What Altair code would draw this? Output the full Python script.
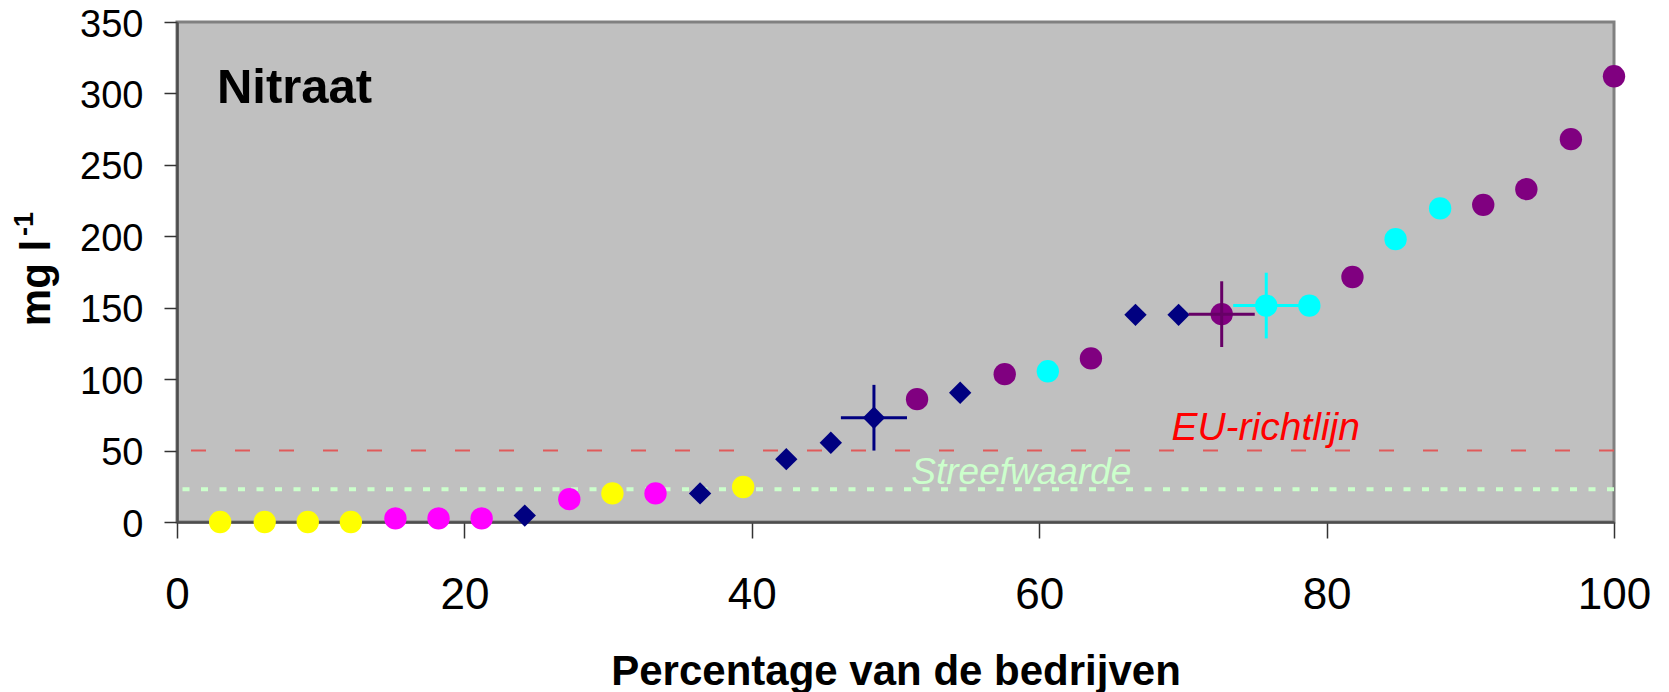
import altair as alt
import pandas as pd

FONT = "Liberation Sans"

# ---- data ----
pct = [3.0, 6.1, 9.1, 12.1, 15.2, 18.2, 21.2, 24.2, 27.3, 30.3, 33.3, 36.4,
       39.4, 42.4, 45.5, 48.5, 51.5, 54.5, 57.6, 60.6, 63.6, 66.7, 69.7,
       72.7, 75.8, 78.8, 81.8, 84.8, 87.9, 90.9, 93.9, 97.0, 100.0]
nitraat = [0, 0, 0, 0, 2.5, 2.5, 2.5, 4.5, 16, 20, 20, 20, 24.5, 44, 55.5,
           73, 86, 90.5, 103.5, 105.5, 114.5, 145, 145, 145.5, 151.5, 151.5,
           171.5, 198, 219.5, 222, 233, 268, 312]
groep = ["geel", "geel", "geel", "geel", "roze", "roze", "roze", "blauw",
         "roze", "geel", "roze", "blauw", "geel", "blauw", "blauw", "blauw",
         "paars", "blauw", "paars", "cyaan", "paars", "blauw", "blauw",
         "paars", "cyaan", "cyaan", "paars", "cyaan", "cyaan", "paars",
         "paars", "paars", "paars"]

groep_namen = ["geel", "roze", "blauw", "paars", "cyaan"]
groep_kleuren = ["#FFFF00", "#FF00FF", "#000080", "#800080", "#00FFFF"]
groep_vormen = ["circle", "circle", "diamond", "circle", "circle"]

err_pct = [48.5, 72.7, 75.8]
err_val = [73, 145.5, 151.5]
err_dx = [2.3, 2.3, 2.3]
err_dy = [23, 23, 23]
err_kleur = ["#000080", "#660066", "#00FFFF"]

eu_richtlijn = 50
streefwaarde = 23

x_ticks = [0, 20, 40, 60, 80, 100]
y_ticks = [0, 50, 100, 150, 200, 250, 300, 350]

# ---- tables ----
pts = pd.DataFrame({"x": pct, "y": nitraat, "groep": groep})
err = pd.DataFrame({"x": err_pct, "y": err_val, "dx": err_dx, "dy": err_dy, "kleur": err_kleur})
err["x1"] = err["x"] - err["dx"]
err["x2"] = err["x"] + err["dx"]
err["y1"] = err["y"] - err["dy"]
err["y2"] = err["y"] + err["dy"]

xs = alt.Scale(domain=[0, 100], nice=False, zero=False)
ys = alt.Scale(domain=[0, 350], nice=False)

xaxis = alt.Axis(values=x_ticks, grid=False, tickSize=16, labelPadding=35,
                 labelFontSize=44, labelFont=FONT, labelColor="black",
                 labelFlush=False, labelOverlap=False,
                 tickColor="#333333", tickWidth=1.5,
                 domainColor="#4d4d4d", domainWidth=2.5,
                 title="Percentage van de bedrijven", titleFont=FONT,
                 titleFontSize=42, titleFontWeight="bold", titleColor="black",
                 titleBaseline="alphabetic", titleY=162)
yaxis = alt.Axis(values=y_ticks, grid=False, tickSize=13, labelPadding=21,
                 labelFontSize=38, labelFont=FONT, labelColor="black",
                 labelFlush=False, labelOverlap=False, labelOffset=3,
                 tickColor="#333333", tickWidth=1.5,
                 domainColor="#4d4d4d", domainWidth=2.5, title=None)


def X(f):
    return alt.X(f, type="quantitative", scale=xs, axis=xaxis)


def Y(f):
    return alt.Y(f, type="quantitative", scale=ys, axis=yaxis)


eu = alt.Chart(pd.DataFrame({"y": [eu_richtlijn]})).mark_rule(
    color="#E05A5A", strokeWidth=2, strokeDash=[15, 29]).encode(y=Y("y"))
streef = alt.Chart(pd.DataFrame({"y": [streefwaarde]})).mark_rule(
    color="#CCFFCC", strokeWidth=4, strokeDash=[7, 11.5]).encode(y=Y("y"))

punten = alt.Chart(pts).mark_point(filled=True, opacity=1, size=500).encode(
    x=X("x"), y=Y("y"),
    color=alt.Color("groep:N", scale=alt.Scale(domain=groep_namen, range=groep_kleuren), legend=None),
    shape=alt.Shape("groep:N", scale=alt.Scale(domain=groep_namen, range=groep_vormen), legend=None),
)

hbar = alt.Chart(err).mark_rule(strokeWidth=3).encode(
    x=X("x1"), x2="x2", y=Y("y"), color=alt.Color("kleur:N", scale=None))
vbar = alt.Chart(err).mark_rule(strokeWidth=3).encode(
    x=X("x"), y=Y("y1"), y2="y2", color=alt.Color("kleur:N", scale=None))

labels = pd.DataFrame({
    "x": [2.78, 69.2, 51.1],
    "y": [293.3, 57.7, 26.6],
    "t": ["Nitraat", "EU-richtlijn", "Streefwaarde"],
})
nitraat_txt = alt.Chart(labels.iloc[[0]]).mark_text(
    align="left", baseline="alphabetic", font=FONT, fontSize=49,
    fontWeight="bold", color="black").encode(x=X("x"), y=Y("y"), text="t:N")
eu_txt = alt.Chart(labels.iloc[[1]]).mark_text(
    align="left", baseline="alphabetic", font=FONT, fontSize=39,
    fontStyle="italic", color="#FF0000").encode(x=X("x"), y=Y("y"), text="t:N")
streef_txt = alt.Chart(labels.iloc[[2]]).mark_text(
    align="left", baseline="alphabetic", font=FONT, fontSize=37,
    fontStyle="italic", color="#CCFFCC").encode(x=X("x"), y=Y("y"), text="t:N")

ytitle = alt.Chart(pd.DataFrame({"t": ["mg l"]})).mark_text(
    angle=270, align="center", baseline="alphabetic", font=FONT, fontSize=42,
    fontWeight="bold", color="black").encode(
    x=alt.value(-127), y=alt.value(261), text="t:N")
ysup = alt.Chart(pd.DataFrame({"t": ["-1"]})).mark_text(
    angle=270, align="left", baseline="alphabetic", font=FONT, fontSize=27,
    fontWeight="bold", color="black").encode(
    x=alt.value(-144), y=alt.value(214), text="t:N")

chart = alt.layer(
    streef, eu, streef_txt, eu_txt, nitraat_txt, punten, hbar, vbar, ytitle, ysup
).properties(
    width=1437, height=500,
    autosize=alt.AutoSizeParams(type="none"),
    padding={"left": 169, "top": 14, "right": 40, "bottom": 172},
    background="white",
).configure_view(fill="#C0C0C0", stroke="#808080", strokeWidth=3)

chart.save("out.html", embed_options={"renderer": "svg", "actions": False})
